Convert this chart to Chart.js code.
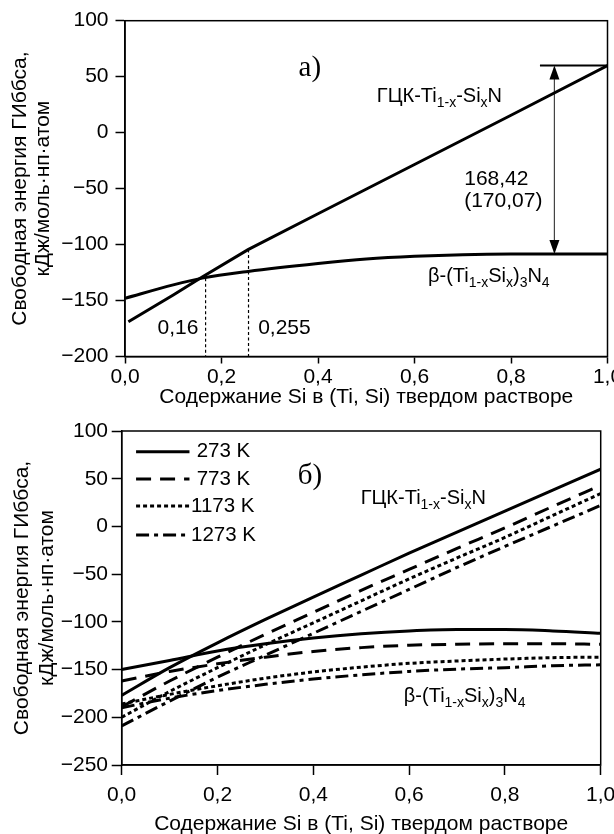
<!DOCTYPE html>
<html><head><meta charset="utf-8">
<script src="https://cdn.jsdelivr.net/npm/chart.js@4"></script>
<style>
html,body{margin:0;padding:0;background:#fff;overflow:hidden;width:614px;height:834px;}
canvas{position:absolute;left:0;}
#c1{top:0}
#c2{top:400px}
</style></head><body>
<canvas id="c1" width="640" height="410"></canvas>
<canvas id="c2" width="640" height="440"></canvas>
<script>
// ---------------- data ----------------
const xTickLabels = ['0,0','0,2','0,4','0,6','0,8','1,0'];
const yTickLabelsTop = ['−200','−150','−100','−50','0','50','100'];
const yTickLabelsBottom = ['−250','−200','−150','−100','−50','0','50','100'];

// panel a)
const topFccX  = [0.007, 0.1, 0.16, 0.255, 0.4, 0.6, 0.8, 1.0];
const topFccY  = [-169, -145, -129, -104.5, -72.5, -28.5, 15.5, 60];
const topBetaX = [0, 0.1, 0.16, 0.255, 0.4, 0.5, 0.6, 0.7, 0.8, 0.9, 1.0];
const topBetaY = [-148, -136, -130, -124, -117, -113, -110.5, -109, -108.5, -108.5, -108.5];
const topMarkX = [0.167, 0.256];
const topMarkY = [-130, -104.5];
const topMarkLabels = ['0,16', '0,255'];
const topGapX = 0.89;
const topGapY = [60, -108.5];
const topGapLabels = ['168,42', '(170,07)'];

// panel б)
const temps = ['273 K', '773 K', '1173 K', '1273 K'];
const bottomX  = [0, 0.1, 0.2, 0.3, 0.4, 0.5, 0.6, 0.7, 0.8, 0.9, 1.0];
const fcc273   = [-177, -148, -122, -97.5, -74, -51, -28, -6, 16, 38, 60];
const fcc773   = [-189, -162, -137, -113, -90, -67, -45, -23, -1.5, 21, 43];
const fcc1173  = [-200, -173, -148, -124, -101, -78, -55, -33, -11.5, 11.5, 34.5];
const fcc1273  = [-209, -183, -158, -135, -112, -89, -66, -43, -21, 0.5, 22];
const beta273  = [-150, -140.5, -130.5, -123, -117, -112.5, -109.5, -108, -108, -109.5, -112];
const beta773  = [-162, -152, -144, -137, -131, -127, -124.5, -123.5, -123, -123, -123.5];
const beta1173 = [-186, -176, -167, -159, -152.5, -147.5, -143.5, -141, -139, -137.5, -137];
const beta1273 = [-190, -180, -172, -165.5, -160, -155.5, -152, -149.5, -148, -146, -145];

const yTitle = ['Свободная энергия ГИббса,', 'кДж/моль·нп·атом'];
const xTitle = 'Содержание Si в (Ti, Si) твердом растворе';
const fccLabel  = [['ГЦК-Ti',0],['1-x',1],['-Si',0],['x',1],['N',0]];
const betaLabel = [['β-(Ti',0],['1-x',1],['Si',0],['x',1],[')',0],['3',1],['N',0],['4',1]];

// ---------------- styles ----------------
const SANS = '"Liberation Sans", Arial, Helvetica, sans-serif';
const SERIF = '"Liberation Serif", "Times New Roman", serif';
const dashes = [[], [15, 9], [4, 3], [13, 5, 4, 5]];
Chart.defaults.font.family = SANS;
Chart.defaults.color = '#000';

const pts = (xs, ys) => xs.map((x, i) => ({x, y: ys[i]}));

function richText(ctx, segs, px, pyCenter, size) {
  const base = pyCenter + 0.36 * size;
  let cx = px;
  ctx.textAlign = 'left';
  ctx.textBaseline = 'alphabetic';
  segs.forEach(([t, sub]) => {
    const s = sub ? Math.round(size * 0.68) : size;
    ctx.font = s + 'px ' + SANS;
    ctx.fillText(t, cx, base + (sub ? size * 0.24 : 0));
    cx += ctx.measureText(t).width;
  });
}

function arrowHead(ctx, px, py, dir) {
  ctx.beginPath();
  ctx.moveTo(px, py);
  ctx.lineTo(px - 5, py - dir * 14);
  ctx.lineTo(px + 5, py - dir * 14);
  ctx.closePath();
  ctx.fill();
}

function frame(chart) {
  const {ctx, chartArea: ca} = chart;
  ctx.save();
  ctx.strokeStyle = '#000';
  ctx.lineWidth = 1.5;
  ctx.strokeRect(ca.left, ca.top, ca.right - ca.left, ca.bottom - ca.top);
  ctx.restore();
}

function axes(cfg) {
  return {
    x: {
      type: 'linear', min: 0, max: 1,
      ticks: {stepSize: 0.2, padding: cfg.xPad, font: {size: 21}, color: '#000',
              callback: (v, i) => xTickLabels[i]},
      grid: {drawOnChartArea: false, tickLength: cfg.xTick, tickWidth: 1.5, tickColor: '#000'},
      border: {color: '#000', width: 1.5},
      title: {display: true, text: xTitle, color: '#000',
              font: {size: 21, lineHeight: cfg.lh}, padding: {top: 0, bottom: cfg.xTitlePad}},
      afterFit: s => { s.height = cfg.xH; }
    },
    y: {
      type: 'linear', min: cfg.yMin, max: 100,
      ticks: {stepSize: 50, padding: cfg.yPad, font: {size: 21}, color: '#000',
              callback: (v, i) => cfg.yLabels[i]},
      grid: {drawOnChartArea: false, tickLength: cfg.yTick, tickWidth: 1.5, tickColor: '#000'},
      border: {color: '#000', width: 1.5},
      title: {display: true, text: yTitle, color: '#000',
              font: {size: 21, lineHeight: cfg.lh}, padding: {top: cfg.yTitlePad, bottom: 0}},
      afterFit: s => { s.width = cfg.yW; }
    }
  };
}

// ---------------- chart a) ----------------
const topPlugin = {
  id: 'topAnnot',
  afterDraw(chart) {
    frame(chart);
    const {ctx, scales: {x, y}} = chart;
    ctx.save();
    ctx.fillStyle = '#000';
    ctx.font = '29px ' + SERIF;
    ctx.textAlign = 'center'; ctx.textBaseline = 'middle';
    ctx.fillText('а)', x.getPixelForValue(0.383), y.getPixelForValue(57.7));
    richText(ctx, fccLabel, x.getPixelForValue(0.522), y.getPixelForValue(33.6), 20);
    richText(ctx, betaLabel, x.getPixelForValue(0.628), y.getPixelForValue(-127.2), 20);
    ctx.font = '21px ' + SANS;
    ctx.textAlign = 'left'; ctx.textBaseline = 'middle';
    ctx.fillText(topGapLabels[0], x.getPixelForValue(0.703), y.getPixelForValue(-41.5));
    ctx.fillText(topGapLabels[1], x.getPixelForValue(0.703), y.getPixelForValue(-61));
    const ax = x.getPixelForValue(topGapX);
    arrowHead(ctx, ax, y.getPixelForValue(topGapY[0]), -1);
    arrowHead(ctx, ax, y.getPixelForValue(topGapY[1]), 1);
    ctx.textAlign = 'right';
    ctx.fillText(topMarkLabels[0], x.getPixelForValue(0.152), y.getPixelForValue(-174.6));
    ctx.textAlign = 'left';
    ctx.fillText(topMarkLabels[1], x.getPixelForValue(0.276), y.getPixelForValue(-174.6));
    ctx.restore();
  }
};

new Chart(document.getElementById('c1'), {
  type: 'line',
  data: {
    datasets: [
      {data: pts(topFccX, topFccY), borderColor: '#000', borderWidth: 3, pointRadius: 0, tension: 0},
      {data: pts(topBetaX, topBetaY), borderColor: '#000', borderWidth: 3, pointRadius: 0, cubicInterpolationMode: 'monotone'},
      {data: [{x: topMarkX[0], y: topMarkY[0]}, {x: topMarkX[0], y: -200}], borderColor: '#000', borderWidth: 1.2, borderDash: [3, 2.5], pointRadius: 0},
      {data: [{x: topMarkX[1], y: topMarkY[1]}, {x: topMarkX[1], y: -200}], borderColor: '#000', borderWidth: 1.2, borderDash: [3, 2.5], pointRadius: 0},
      {data: [{x: topGapX, y: topGapY[0] - 2}, {x: topGapX, y: topGapY[1] + 2}], borderColor: '#444', borderWidth: 1, pointRadius: 0},
      {data: [{x: 0.86, y: topGapY[0]}, {x: 1.0, y: topGapY[0]}], borderColor: '#000', borderWidth: 2, pointRadius: 0}
    ]
  },
  options: {
    responsive: false, animation: false, devicePixelRatio: 1,
    layout: {padding: {left: 0, right: 32.5, top: 20.7, bottom: 0}},
    plugins: {legend: {display: false}, tooltip: {enabled: false}},
    scales: axes({xPad: 1, xTick: 7, xTitlePad: 1.2, xH: 53.5, lh: 1.12,
                  yMin: -200, yPad: 7, yTick: 9.5, yTitlePad: 8.2, yW: 125, yLabels: yTickLabelsTop})
  },
  plugins: [topPlugin]
});

// ---------------- chart б) ----------------
const fccSeries = [fcc273, fcc773, fcc1173, fcc1273];
const betaSeries = [beta273, beta773, beta1173, beta1273];
const bottomSets = [];
temps.forEach((t, i) => {
  bottomSets.push({label: t, data: pts(bottomX, fccSeries[i]), borderColor: '#000', borderWidth: 3,
                   borderDash: dashes[i], pointRadius: 0, cubicInterpolationMode: 'monotone'});
  bottomSets.push({label: t, data: pts(bottomX, betaSeries[i]), borderColor: '#000', borderWidth: 3,
                   borderDash: dashes[i], pointRadius: 0, cubicInterpolationMode: 'monotone'});
});
const legendRowY = [78.3, 49.7, 21.4, -9.0];

const bottomPlugin = {
  id: 'bottomAnnot',
  afterDraw(chart) {
    frame(chart);
    const {ctx, scales: {x, y}} = chart;
    ctx.save();
    ctx.fillStyle = '#000'; ctx.strokeStyle = '#000';
    ctx.font = '29px ' + SERIF;
    ctx.textAlign = 'center'; ctx.textBaseline = 'middle';
    ctx.fillText('б)', x.getPixelForValue(0.393), y.getPixelForValue(52.8));
    richText(ctx, fccLabel, x.getPixelForValue(0.499), y.getPixelForValue(30.8), 20);
    richText(ctx, betaLabel, x.getPixelForValue(0.589), y.getPixelForValue(-176.7), 20);
    const x0 = x.getPixelForValue(0.03), x1 = x.getPixelForValue(0.1415), xt = x.getPixelForValue(0.1447);
    temps.forEach((t, i) => {
      const py = y.getPixelForValue(legendRowY[i]);
      ctx.lineWidth = 3;
      ctx.setLineDash(dashes[i]);
      ctx.beginPath(); ctx.moveTo(x0, py); ctx.lineTo(x1, py); ctx.stroke();
      ctx.setLineDash([]);
      ctx.font = '20.5px ' + SANS;
      ctx.textAlign = 'left'; ctx.textBaseline = 'middle';
      ctx.fillText((t.length < 6 ? ' ' : '') + t, xt, py);
    });
    ctx.restore();
  }
};

new Chart(document.getElementById('c2'), {
  type: 'line',
  data: {datasets: bottomSets},
  options: {
    responsive: false, animation: false, devicePixelRatio: 1,
    layout: {padding: {left: 0, right: 39.3, top: 31, bottom: 0}},
    plugins: {legend: {display: false}, tooltip: {enabled: false}},
    scales: axes({xPad: 7.4, xTick: 10, xTitlePad: 3.2, xH: 75, lh: 1.2,
                  yMin: -250, yPad: 3.7, yTick: 10, yTitlePad: 9.2, yW: 121.7, yLabels: yTickLabelsBottom})
  },
  plugins: [bottomPlugin]
});
</script>
</body></html>
